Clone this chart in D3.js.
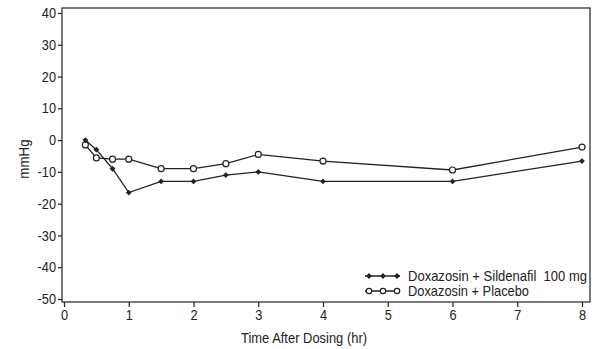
<!DOCTYPE html>
<html>
<head>
<meta charset="utf-8">
<script src="https://cdn.jsdelivr.net/npm/d3@7"></script>
<style>
  body { margin: 0; background: #fff; }
  svg text { font-family: "Liberation Sans", Arial, sans-serif; fill: #222; white-space: pre; }
</style>
</head>
<body>
<div id="chart"></div>
<script>
let width = 600, height = 349;

// hours after dosing
let hours = [0.33, 0.5, 0.75, 1, 1.5, 2, 2.5, 3, 4, 6, 8];
// mean change in blood pressure, mmHg
let sildenafil = [0, -3, -9, -16.5, -13, -13, -11, -10, -13, -13, -6.6];
let placebo = [-1.5, -5.6, -6, -6, -9, -9, -7.4, -4.5, -6.6, -9.4, -2.2];
let xTicks = [0, 1, 2, 3, 4, 5, 6, 7, 8];
let yTicks = [40, 30, 20, 10, 0, -10, -20, -30, -40, -50];
let seriesNames = ["Doxazosin + Sildenafil  100 mg", "Doxazosin + Placebo"];

let ink = "#222";

let box = {left: 62, right: 590, top: 8, bottom: 302};

let x = d3.scaleLinear().domain([0, 8]).range([64, 582]);
let y = d3.scaleLinear().domain([-50, 40]).range([299, 13]);

let svg = d3.select("#chart").append("svg")
    .attr("width", width)
    .attr("height", height);

// squeeze text horizontally, the font here is wider than a narrow sans
function condense(sel, k) {
    sel.each(function() {
        let w = this.getComputedTextLength();
        d3.select(this).attr("textLength", w * k).attr("lengthAdjust", "spacingAndGlyphs");
    });
}

let yAxis = svg.append("g")
    .attr("transform", "translate(" + box.left + ",0)")
    .call(d3.axisLeft(y).tickValues(yTicks).tickSize(4).tickPadding(2)
        .tickFormat(function(d) { return String(d); }));
let xAxis = svg.append("g")
    .attr("transform", "translate(0," + box.bottom + ")")
    .call(d3.axisBottom(x).tickValues(xTicks).tickSize(5).tickPadding(3)
        .tickFormat(function(d) { return String(d); }));

[xAxis, yAxis].forEach(function(a) {
    a.select(".domain").remove();
    a.selectAll("line").attr("stroke", ink).attr("stroke-width", 1.2);
    a.selectAll("text").style("font-size", "14.5px").attr("fill", ink).call(condense, 0.88);
});

svg.append("text")
    .attr("x", 304).attr("y", 343)
    .attr("text-anchor", "middle")
    .style("font-size", "15px")
    .text("Time After Dosing (hr)")
    .attr("textLength", 126).attr("lengthAdjust", "spacingAndGlyphs");

svg.append("text")
    .attr("transform", "translate(29,159) rotate(-90)")
    .attr("text-anchor", "middle")
    .style("font-size", "14.5px")
    .text("mmHg")
    .call(condense, 0.92);

let line = d3.line()
    .x(function(d) { return x(d[0]); })
    .y(function(d) { return y(d[1]); });

// small filled diamond: a square turned 45 degrees
let diamond = d3.symbol().type(d3.symbolSquare).size(17);

function drawSeries(values, kind) {
    let pts = hours.map(function(h, i) { return [h, values[i]]; });
    let g = svg.append("g");
    g.append("path")
        .datum(pts)
        .attr("d", line)
        .attr("fill", "none")
        .attr("stroke", ink)
        .attr("stroke-width", 1.3);
    drawMarkers(g, pts.map(function(p) { return [x(p[0]), y(p[1])]; }), kind, 3);
}

function drawMarkers(g, xy, kind, r) {
    if (kind === "diamond") {
        g.selectAll("path.m").data(xy).enter().append("path")
            .attr("class", "m")
            .attr("d", diamond)
            .attr("transform", function(d) { return "translate(" + d[0] + "," + d[1] + ") rotate(45)"; })
            .attr("fill", ink);
    } else {
        g.selectAll("circle").data(xy).enter().append("circle")
            .attr("cx", function(d) { return d[0]; })
            .attr("cy", function(d) { return d[1]; })
            .attr("r", r)
            .attr("fill", "#fff")
            .attr("stroke", ink)
            .attr("stroke-width", 1.2);
    }
}

drawSeries(placebo, "circle");
drawSeries(sildenafil, "diamond");

// legend
let legend = svg.append("g");
let kinds = ["diamond", "circle"];
let legendWidths = [179, 121];
seriesNames.forEach(function(name, i) {
    let ly = 276 + i * 15;
    let sx = [369, 383, 397];
    legend.append("line")
        .attr("x1", 365).attr("x2", 400)
        .attr("y1", ly).attr("y2", ly)
        .attr("stroke", ink).attr("stroke-width", 1.3);
    drawMarkers(legend, sx.map(function(v) { return [v, ly]; }), kinds[i], 2.7);
    legend.append("text")
        .attr("x", 408).attr("y", ly + 5)
        .style("font-size", "14.5px")
        .text(name)
        .attr("textLength", legendWidths[i]).attr("lengthAdjust", "spacingAndGlyphs");
});

svg.append("rect")
    .attr("x", box.left).attr("y", box.top)
    .attr("width", box.right - box.left).attr("height", box.bottom - box.top)
    .attr("fill", "none").attr("stroke", ink).attr("stroke-width", 1.2);
</script>
</body>
</html>
